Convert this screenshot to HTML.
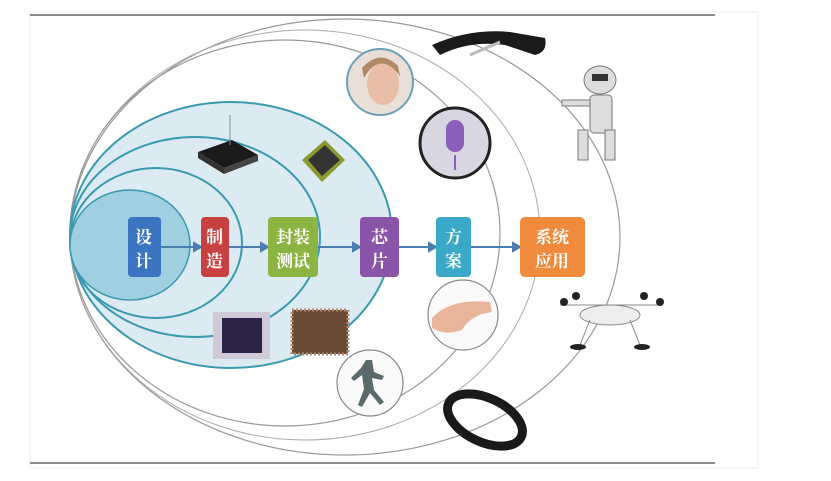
<!DOCTYPE html>
<html><head><meta charset="utf-8"><style>
html,body{margin:0;padding:0;background:#fff;}
svg{display:block;}
text{font-family:"Liberation Serif","Noto Serif CJK SC",serif;fill:#fff;font-weight:bold;font-size:17px;}
</style></head><body>
<svg width="831" height="481" viewBox="0 0 831 481">
<rect x="30" y="12" width="728" height="456" fill="#fff" stroke="#ececec"/>
<line x1="30" y1="15" x2="715" y2="15" stroke="#666" stroke-width="1.5"/>
<line x1="30" y1="463" x2="715" y2="463" stroke="#666" stroke-width="1.5"/>
<!-- gray orbits -->
<ellipse cx="345" cy="237" rx="275" ry="218" fill="none" stroke="#999" stroke-width="1.2"/>
<ellipse cx="305" cy="235" rx="235" ry="205" fill="none" stroke="#aaa" stroke-width="1"/>
<ellipse cx="285" cy="233" rx="215" ry="193" fill="none" stroke="#999" stroke-width="1.2"/>
<!-- blue ellipses -->
<ellipse cx="231" cy="235" rx="161" ry="133" fill="#dcebf2" stroke="#3a9ab0" stroke-width="2"/>
<ellipse cx="195" cy="237" rx="125" ry="100" fill="none" stroke="#3a9ab0" stroke-width="2"/>
<ellipse cx="156" cy="243" rx="86" ry="75" fill="none" stroke="#3a9ab0" stroke-width="2"/>
<ellipse cx="130" cy="245" rx="60" ry="55" fill="#9fcfe0" stroke="#3a9ab0" stroke-width="1.5"/>
<!-- arrows -->
<g stroke="#4a7eb0" stroke-width="2" fill="#4a7eb0">
<line x1="160" y1="247" x2="197" y2="247"/><polygon points="201,247 194,243 194,251"/>
<line x1="228" y1="247" x2="264" y2="247"/><polygon points="268,247 261,243 261,251"/>
<line x1="318" y1="247" x2="356" y2="247"/><polygon points="360,247 353,243 353,251"/>
<line x1="399" y1="247" x2="432" y2="247"/><polygon points="436,247 429,243 429,251"/>
<line x1="470" y1="247" x2="516" y2="247"/><polygon points="520,247 513,243 513,251"/>
</g>
<!-- boxes -->
<rect x="128" y="217" width="33" height="60" rx="4" fill="#3b74c0"/>
<text x="135" y="243">设</text><text x="135" y="267">计</text>
<rect x="201" y="217" width="28" height="60" rx="4" fill="#c94040"/>
<text x="206" y="243">制</text><text x="206" y="267">造</text>
<rect x="268" y="217" width="50" height="60" rx="4" fill="#8cb443"/>
<text x="276" y="243">封装</text><text x="276" y="267">测试</text>
<rect x="360" y="217" width="39" height="60" rx="4" fill="#8a55a8"/>
<text x="371" y="243">芯</text><text x="371" y="267">片</text>
<rect x="436" y="217" width="35" height="60" rx="4" fill="#3aa9c8"/>
<text x="445" y="243">方</text><text x="445" y="267">案</text>
<rect x="520" y="217" width="65" height="60" rx="5" fill="#f08a3c"/>
<text x="535" y="243">系统</text><text x="535" y="267">应用</text>
<!-- chip images -->
<polygon points="198,152 232,140 258,155 224,168" fill="#1a1a1a"/>
<polygon points="198,152 224,168 224,174 198,158" fill="#333"/>
<polygon points="224,168 258,155 258,161 224,174" fill="#444"/>
<line x1="230" y1="115" x2="230" y2="145" stroke="#888"/>
<polygon points="302,160 325,140 345,160 322,182" fill="#8a9a30"/>
<polygon points="308,160 325,145 340,160 322,176" fill="#333"/>
<rect x="213" y="312" width="57" height="47" fill="#cfc9d8"/>
<rect x="222" y="318" width="40" height="35" fill="#2c2347"/>
<rect x="292" y="310" width="56" height="44" fill="#6b4a35"/>
<rect x="292" y="310" width="56" height="44" fill="none" stroke="#b08a70" stroke-width="3" stroke-dasharray="2 2"/>
<!-- outer circles -->
<circle cx="380" cy="82" r="33" fill="#eadfd6" stroke="#6aa0b8" stroke-width="2"/>
<ellipse cx="383" cy="84" rx="16" ry="21" fill="#e8bfa6"/>
<path d="M364,78 Q380,50 400,76 L398,66 Q380,48 362,68Z" fill="#b08a66"/>
<circle cx="455" cy="143" r="35" fill="#d8d6e0" stroke="#222" stroke-width="3"/>
<rect x="446" y="120" width="18" height="32" rx="9" fill="#8a60b8"/>
<line x1="455" y1="155" x2="455" y2="170" stroke="#8a60b8" stroke-width="2"/>
<circle cx="463" cy="315" r="35" fill="#fafafa" stroke="#888" stroke-width="1.2"/>
<path d="M432,318 Q450,298 490,302 L492,312 Q470,315 462,330 Q445,336 432,328Z" fill="#e8b49a"/>
<circle cx="370" cy="383" r="33" fill="#fafafa" stroke="#888" stroke-width="1.2"/>
<path d="M366,360 l6,0 l2,12 l10,4 l-2,4 l-10,-2 l2,12 l10,12 l-4,3 l-10,-12 l-8,14 l-4,-2 l6,-16 l-2,-14 l-8,6 l-3,-3 l10,-10Z" fill="#5a6a6a"/>
<!-- outer objects -->
<path d="M432,45 Q470,28 510,32 L545,38 Q548,52 535,55 L505,45 Q470,40 440,55Z" fill="#1a1a1a"/>
<path d="M470,55 L500,42" stroke="#bbb" stroke-width="3"/>
<g fill="#ddd" stroke="#777" stroke-width="1">
<ellipse cx="600" cy="80" rx="16" ry="14"/>
<rect x="590" y="95" width="22" height="38" rx="4"/>
<rect x="562" y="100" width="28" height="6"/>
<rect x="578" y="130" width="10" height="30"/><rect x="605" y="130" width="10" height="30"/>
</g>
<rect x="592" y="74" width="16" height="7" fill="#333"/>
<g fill="#eee" stroke="#888">
<ellipse cx="610" cy="315" rx="30" ry="10"/>
<line x1="560" y1="305" x2="660" y2="305"/>
<line x1="590" y1="320" x2="580" y2="345"/><line x1="630" y1="320" x2="640" y2="345"/>
</g>
<g fill="#222"><circle cx="564" cy="302" r="4"/><circle cx="576" cy="296" r="4"/><circle cx="644" cy="296" r="4"/><circle cx="660" cy="302" r="4"/>
<ellipse cx="578" cy="347" rx="8" ry="3"/><ellipse cx="642" cy="347" rx="8" ry="3"/></g>
<ellipse cx="485" cy="420" rx="40" ry="22" transform="rotate(25 485 420)" fill="none" stroke="#1a1a1a" stroke-width="9"/>
</svg>
</body></html>
